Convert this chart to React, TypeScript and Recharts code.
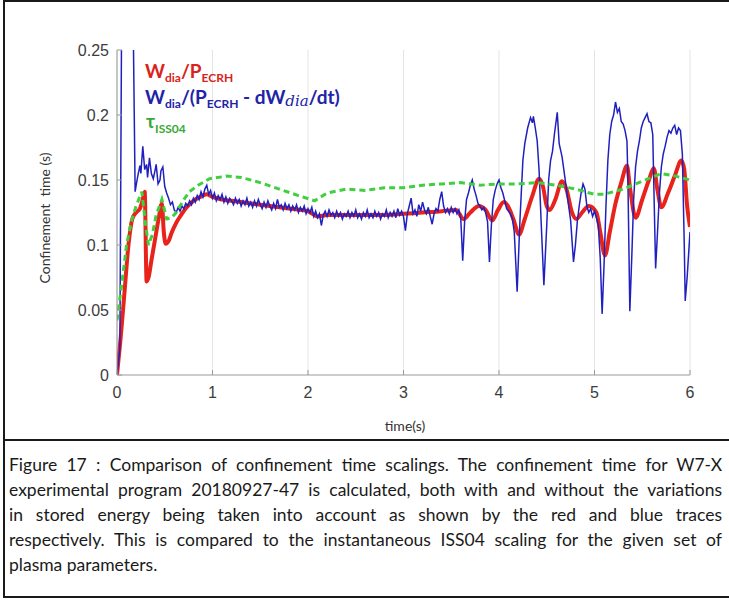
import React from 'react';
import { LineChart, Line, XAxis, YAxis, CartesianGrid } from 'recharts';

const xTicks = [0, 1, 2, 3, 4, 5, 6];
const yTicks = [0, 0.05, 0.1, 0.15, 0.2, 0.25];

// tau_ISS04 (green dashed)
const greenTime = [0, 0.05, 0.1, 0.15, 0.2, 0.26, 0.3, 0.33, 0.37, 0.41, 0.47, 0.52, 0.57, 0.62, 0.7, 0.76, 0.85, 0.97, 1.15, 1.3, 1.5, 1.7, 1.9, 2.07, 2.2, 2.4, 2.6, 2.8, 3.0, 3.2, 3.4, 3.6, 3.8, 4.0, 4.2, 4.4, 4.6, 4.8, 5.0, 5.1, 5.3, 5.5, 5.7, 5.85, 6.0];
const greenValue = [0.042, 0.07, 0.1, 0.118, 0.13, 0.141, 0.115, 0.1, 0.108, 0.123, 0.135, 0.12, 0.121, 0.125, 0.135, 0.141, 0.146, 0.151, 0.153, 0.152, 0.148, 0.143, 0.138, 0.134, 0.14, 0.143, 0.142, 0.144, 0.144, 0.146, 0.147, 0.148, 0.146, 0.147, 0.147, 0.148, 0.146, 0.143, 0.139, 0.139, 0.143, 0.149, 0.155, 0.153, 0.15];

// W_dia / P_ECRH (red)
const redTime = [0, 0.04, 0.08, 0.12, 0.16, 0.2, 0.24, 0.27, 0.29, 0.31, 0.33, 0.36, 0.4, 0.44, 0.47, 0.49, 0.51, 0.54, 0.57, 0.62, 0.67, 0.73, 0.8, 0.87, 0.94, 1.0, 1.1, 1.2, 1.4, 1.6, 1.8, 2.0, 2.1, 2.2, 2.5, 2.8, 3.0, 3.2, 3.4, 3.55, 3.63, 3.7, 3.79, 3.86, 3.93, 3.99, 4.05, 4.1, 4.15, 4.21, 4.27, 4.35, 4.42, 4.46, 4.5, 4.53, 4.59, 4.66, 4.71, 4.76, 4.81, 4.87, 4.94, 5.02, 5.06, 5.11, 5.16, 5.22, 5.28, 5.34, 5.37, 5.43, 5.5, 5.57, 5.62, 5.66, 5.7, 5.77, 5.84, 5.91, 5.94, 5.97, 6.0];
const redValue = [0, 0.03, 0.065, 0.1, 0.12, 0.125, 0.128, 0.135, 0.141, 0.072, 0.075, 0.088, 0.105, 0.122, 0.132, 0.11, 0.101, 0.103, 0.109, 0.117, 0.123, 0.129, 0.134, 0.137, 0.139, 0.137, 0.135, 0.134, 0.132, 0.13, 0.128, 0.126, 0.122, 0.123, 0.123, 0.123, 0.124, 0.125, 0.126, 0.127, 0.12, 0.125, 0.13, 0.127, 0.119, 0.127, 0.133, 0.129, 0.12, 0.108, 0.12, 0.138, 0.151, 0.145, 0.13, 0.127, 0.135, 0.149, 0.142, 0.126, 0.12, 0.125, 0.13, 0.125, 0.11, 0.092, 0.11, 0.132, 0.148, 0.161, 0.145, 0.121, 0.135, 0.15, 0.159, 0.142, 0.129, 0.14, 0.153, 0.165, 0.158, 0.13, 0.114];

// W_dia / (P_ECRH - dW_dia/dt) (blue), [time, value]
const blueStart: [number, number][] = [
  [0, 0], [0.03, 0.02], [0.05, 0.3], [0.165, 0.3], [0.19, 0.141], [0.21, 0.15], [0.22, 0.154], [0.24, 0.161], [0.25, 0.155], [0.27, 0.176],
  [0.29, 0.158], [0.31, 0.162], [0.32, 0.152], [0.34, 0.167], [0.36, 0.155], [0.38, 0.151], [0.4, 0.158], [0.41, 0.162], [0.43, 0.147], [0.45, 0.15],
  [0.46, 0.157], [0.48, 0.16], [0.5, 0.145], [0.52, 0.14], [0.54, 0.136], [0.56, 0.131], [0.58, 0.133], [0.6, 0.127],
];
const blueMiddle: [number, number][] = [
  [0.62, 0.125], [0.64, 0.129], [0.66, 0.126], [0.68, 0.13], [0.7, 0.128], [0.72, 0.132], [0.74, 0.13], [0.76, 0.134], [0.78, 0.131], [0.8, 0.136],
  [0.82, 0.133], [0.84, 0.138], [0.86, 0.135], [0.88, 0.141], [0.9, 0.137], [0.92, 0.143], [0.94, 0.146], [0.96, 0.139], [0.98, 0.142], [1.0, 0.136],
  [1.02, 0.14], [1.04, 0.134], [1.06, 0.138], [1.08, 0.135], [1.1, 0.139], [1.12, 0.133], [1.14, 0.137], [1.16, 0.132], [1.18, 0.136], [1.2, 0.134],
  [1.22, 0.131], [1.24, 0.136], [1.26, 0.132], [1.28, 0.135], [1.3, 0.13], [1.32, 0.134], [1.34, 0.131], [1.36, 0.136], [1.38, 0.13], [1.4, 0.133],
  [1.42, 0.129], [1.44, 0.134], [1.46, 0.13], [1.48, 0.135], [1.5, 0.131], [1.52, 0.128], [1.54, 0.133], [1.56, 0.129], [1.58, 0.134], [1.6, 0.13],
  [1.62, 0.127], [1.64, 0.132], [1.66, 0.128], [1.68, 0.135], [1.7, 0.129], [1.72, 0.131], [1.74, 0.127], [1.76, 0.132], [1.78, 0.128], [1.8, 0.131],
  [1.82, 0.126], [1.84, 0.13], [1.86, 0.127], [1.88, 0.131], [1.9, 0.125], [1.92, 0.129], [1.94, 0.126], [1.96, 0.13], [1.98, 0.124], [2.0, 0.128],
  [2.02, 0.125], [2.04, 0.129], [2.06, 0.122], [2.08, 0.126], [2.1, 0.121], [2.12, 0.124], [2.14, 0.115], [2.16, 0.123], [2.18, 0.126], [2.2, 0.122],
  [2.22, 0.127], [2.24, 0.123], [2.26, 0.125], [2.28, 0.121], [2.3, 0.126], [2.32, 0.122], [2.34, 0.125], [2.36, 0.12], [2.38, 0.124], [2.4, 0.122],
  [2.42, 0.126], [2.44, 0.121], [2.46, 0.125], [2.48, 0.122], [2.5, 0.127], [2.52, 0.121], [2.54, 0.124], [2.56, 0.12], [2.58, 0.125], [2.6, 0.122],
  [2.62, 0.127], [2.64, 0.121], [2.66, 0.124], [2.68, 0.121], [2.7, 0.126], [2.72, 0.122], [2.74, 0.125], [2.76, 0.12], [2.78, 0.124], [2.8, 0.122],
  [2.82, 0.127], [2.84, 0.121], [2.86, 0.125], [2.88, 0.122], [2.9, 0.126], [2.92, 0.121], [2.94, 0.128], [2.96, 0.123], [2.98, 0.126], [3.0, 0.122],
  [3.02, 0.111], [3.04, 0.124], [3.06, 0.13], [3.08, 0.136], [3.1, 0.124], [3.12, 0.127], [3.14, 0.122], [3.16, 0.131], [3.18, 0.126], [3.2, 0.133],
  [3.22, 0.127], [3.24, 0.124], [3.26, 0.129], [3.28, 0.122], [3.3, 0.116], [3.32, 0.124], [3.34, 0.128], [3.36, 0.126], [3.38, 0.135], [3.4, 0.141],
  [3.42, 0.13], [3.44, 0.125], [3.46, 0.128], [3.48, 0.124], [3.5, 0.129], [3.52, 0.125], [3.54, 0.128], [3.56, 0.124], [3.58, 0.127], [3.6, 0.12],
];
const blueEnd: [number, number][] = [
  [3.62, 0.088], [3.64, 0.118], [3.66, 0.135], [3.68, 0.14], [3.7, 0.146], [3.72, 0.15], [3.74, 0.143], [3.76, 0.138], [3.78, 0.132], [3.8, 0.13],
  [3.82, 0.127], [3.84, 0.129], [3.86, 0.125], [3.88, 0.118], [3.9, 0.087], [3.92, 0.115], [3.94, 0.135], [3.96, 0.142], [3.98, 0.147], [4.0, 0.15],
  [4.02, 0.144], [4.04, 0.14], [4.06, 0.134], [4.08, 0.128], [4.1, 0.126], [4.12, 0.124], [4.14, 0.12], [4.16, 0.11], [4.19, 0.064], [4.22, 0.12],
  [4.25, 0.165], [4.27, 0.178], [4.3, 0.19], [4.33, 0.198], [4.35, 0.194], [4.36, 0.199], [4.38, 0.19], [4.4, 0.18], [4.42, 0.157], [4.44, 0.12],
  [4.47, 0.069], [4.5, 0.115], [4.52, 0.15], [4.54, 0.165], [4.56, 0.172], [4.58, 0.185], [4.61, 0.202], [4.63, 0.178], [4.66, 0.168], [4.69, 0.152],
  [4.72, 0.135], [4.75, 0.119], [4.78, 0.087], [4.8, 0.1], [4.82, 0.118], [4.84, 0.13], [4.86, 0.14], [4.88, 0.147], [4.9, 0.143], [4.92, 0.13],
  [4.94, 0.125], [4.96, 0.128], [4.98, 0.122], [5.0, 0.126], [5.02, 0.121], [5.04, 0.115], [5.06, 0.09], [5.08, 0.047], [5.1, 0.085], [5.12, 0.13],
  [5.14, 0.165], [5.16, 0.185], [5.18, 0.195], [5.2, 0.2], [5.22, 0.21], [5.24, 0.202], [5.26, 0.205], [5.28, 0.195], [5.3, 0.193], [5.32, 0.188],
  [5.34, 0.18], [5.35, 0.15], [5.37, 0.049], [5.39, 0.09], [5.41, 0.135], [5.43, 0.16], [5.45, 0.172], [5.47, 0.18], [5.49, 0.19], [5.51, 0.195],
  [5.53, 0.198], [5.55, 0.201], [5.57, 0.195], [5.59, 0.194], [5.61, 0.185], [5.62, 0.15], [5.64, 0.082], [5.66, 0.11], [5.68, 0.14], [5.7, 0.16],
  [5.72, 0.17], [5.74, 0.176], [5.76, 0.183], [5.78, 0.188], [5.8, 0.186], [5.82, 0.19], [5.84, 0.192], [5.86, 0.185], [5.88, 0.19], [5.9, 0.188],
  [5.92, 0.17], [5.94, 0.1], [5.95, 0.057], [5.97, 0.075], [6.0, 0.11],
];

const yTickLabels = ['0', '0.05', '0.1', '0.15', '0.2', '0.25'];

const greenRows = greenTime.map((t, i) => ({ t, v: greenValue[i] }));
const redRows = redTime.map((t, i) => ({ t, v: redValue[i] }));
const blueRows = [...blueStart, ...blueMiddle, ...blueEnd].map(([t, v]) => ({ t, v }));

const tickStyle = { fill: '#3c3c3c', fontSize: 16, fontFamily: 'Liberation Sans, Arial, sans-serif' };
const sub: React.CSSProperties = { fontSize: 12, verticalAlign: '-4px' };

const captionLines = [
  'Figure 17 : Comparison of confinement time scalings. The confinement time for W7-X',
  'experimental program 20180927-47 is calculated, both with and without the variations',
  'in stored energy being taken into account as shown by the red and blue traces',
  'respectively.  This is compared to the instantaneous ISS04 scaling for the given set of',
];
const captionLast = 'plasma parameters.';

export default function App() {
  return (
    <div style={{ position: 'absolute', left: 0, top: 0, width: 729, height: 601, background: '#fff', overflow: 'hidden' }}>
      <div style={{ position: 'absolute', left: 3, top: 0, width: 740, height: 598, border: '2px solid #1a1a1a', boxSizing: 'border-box' }} />
      <div style={{ position: 'absolute', left: 3, top: 439, width: 740, height: 2, background: '#1a1a1a' }} />
      <div style={{ position: 'absolute', left: 0, top: 0 }}>
        <LineChart width={729} height={440} margin={{ top: 50, right: 39, bottom: 35, left: 57 }}>
          <CartesianGrid xAxisId="b" yAxisId="l" horizontal={false} stroke="#e4e4e4" />
          <XAxis xAxisId="b" type="number" dataKey="t" domain={[0, 6]} ticks={xTicks} allowDataOverflow height={30}
            tickSize={-5} tickMargin={17} stroke="#9a9a9a" tick={tickStyle} />
          <XAxis xAxisId="top" orientation="top" type="number" dataKey="t" domain={[0, 6]} ticks={xTicks} allowDataOverflow height={0}
            tickSize={-5} tick={false} stroke="#b0b0b0" />
          <YAxis yAxisId="l" type="number" domain={[0, 0.25]} ticks={yTicks} allowDataOverflow width={60}
            tickSize={-5} tickMargin={13} stroke="#9a9a9a" tick={tickStyle}
            tickFormatter={(v: number) => yTickLabels[yTicks.indexOf(v)] ?? String(v)} />
          <YAxis yAxisId="r" orientation="right" type="number" domain={[0, 0.25]} ticks={yTicks} allowDataOverflow width={0}
            tickSize={-5} tick={false} stroke="#b0b0b0" />
          <Line xAxisId="b" yAxisId="l" data={redRows} dataKey="v" type="monotone" stroke="#e8231b" strokeWidth={4}
            dot={false} isAnimationActive={false} />
          <Line xAxisId="b" yAxisId="l" data={blueRows} dataKey="v" type="linear" stroke="#2020c0" strokeWidth={1.5}
            dot={false} isAnimationActive={false} />
          <Line xAxisId="b" yAxisId="l" data={greenRows} dataKey="v" type="linear" stroke="#3fcf3f" strokeWidth={3}
            strokeDasharray="6 4" dot={false} isAnimationActive={false} />
        </LineChart>
      </div>
      <div style={{ position: 'absolute', left: 145, top: 61, fontFamily: 'Lato, sans-serif', fontWeight: 700, fontSize: 19, lineHeight: '20px', color: '#d9231c', whiteSpace: 'nowrap' }}>
        W<span style={sub}>dia</span>/P<span style={sub}>ECRH</span>
      </div>
      <div style={{ position: 'absolute', left: 145, top: 87, fontFamily: 'Lato, sans-serif', fontWeight: 700, fontSize: 19, lineHeight: '20px', color: '#2323a8', whiteSpace: 'nowrap' }}>
        W<span style={sub}>dia</span>/(P<span style={sub}>ECRH</span> - dW<span style={{ fontFamily: 'DejaVu Serif, serif', fontStyle: 'italic', fontWeight: 400, fontSize: 15, verticalAlign: '-2px' }}>dia</span>/dt)
      </div>
      <div style={{ position: 'absolute', left: 146, top: 112, fontFamily: 'Lato, sans-serif', fontWeight: 700, fontSize: 19, lineHeight: '18px', color: '#39a935', whiteSpace: 'nowrap' }}>
        τ<span style={{ fontSize: 12, verticalAlign: '-5px' }}>ISS04</span>
      </div>
      <div style={{ position: 'absolute', left: 44, top: 218, transform: 'translate(-50%, -50%) rotate(-90deg)', fontFamily: 'Lato, sans-serif', fontSize: 14, color: '#333', whiteSpace: 'pre' }}>
        {'Confinement  time (s)'}
      </div>
      <div style={{ position: 'absolute', left: 405, top: 425, transform: 'translate(-50%, -50%)', fontFamily: 'Lato, sans-serif', fontSize: 14, color: '#333', whiteSpace: 'nowrap' }}>
        time(s)
      </div>
      <div style={{ position: 'absolute', left: 9, top: 452, width: 713, fontFamily: 'Lato, sans-serif', fontSize: 17.5, lineHeight: '25px', color: '#1a1a1a' }}>
        {captionLines.map((l, i) => (
          <div key={i} style={{ textAlign: 'justify', textAlignLast: 'justify', whiteSpace: 'nowrap' }}>{l}</div>
        ))}
        <div>{captionLast}</div>
      </div>
    </div>
  );
}
